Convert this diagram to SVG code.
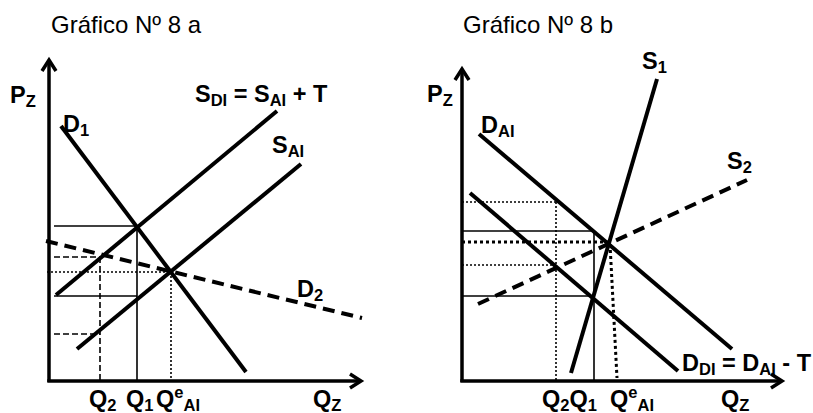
<svg xmlns="http://www.w3.org/2000/svg" width="813" height="413" viewBox="0 0 813 413">
<style>
.t{font-family:"Liberation Sans",Arial,sans-serif;font-size:24px;fill:#000}
.b{font-family:"Liberation Sans",Arial,sans-serif;font-weight:bold;font-size:23.5px;fill:#000}
.s{font-size:16.5px}
.ax{stroke:#000;stroke-width:3.5;fill:none}
.cv{stroke:#000;stroke-width:4;fill:none;stroke-linecap:butt}
.cvd{stroke:#000;stroke-width:4;fill:none;stroke-dasharray:12,7}
.g{stroke:#000;stroke-width:1.6;fill:none}
.gd{stroke:#000;stroke-width:1.6;fill:none;stroke-dasharray:6,3}
.go{stroke:#000;stroke-width:1.6;fill:none;stroke-dasharray:2,2}
.gO{stroke:#000;stroke-width:3;fill:none;stroke-dasharray:3,3}
</style>
<rect width="813" height="413" fill="#fff"/>

<g id="chart-a">
  <text class="t" x="51" y="33">Gráfico Nº 8 a</text>
  <g id="a-axes">
    <line class="ax" x1="49" y1="60" x2="49" y2="382"/>
    <polyline class="ax" points="42,71 49,60 56,71"/>
    <line class="ax" x1="47.3" y1="381" x2="361" y2="381"/>
    <polyline class="ax" points="350,374 361,381 350,388"/>
  </g>
  <g id="a-guides">
    <line class="g" x1="54" y1="226" x2="137" y2="226"/>
    <line class="g" x1="54" y1="296" x2="137" y2="296"/>
    <line class="g" x1="137" y1="226" x2="137" y2="381"/>
    <line class="gd" x1="54" y1="257" x2="100" y2="257"/>
    <line class="gd" x1="54" y1="334" x2="100" y2="334"/>
    <line class="gd" x1="100" y1="257" x2="100" y2="381"/>
    <line class="go" x1="47" y1="272" x2="171" y2="272"/>
    <line class="go" x1="171" y1="272" x2="171" y2="381"/>
  </g>
  <g id="a-curves">
    <line class="cv" x1="61" y1="126" x2="246" y2="372"/>
    <line class="cv" x1="56" y1="295" x2="277" y2="111"/>
    <line class="cv" x1="77" y1="349" x2="301" y2="164"/>
    <line class="cvd" x1="46" y1="241" x2="362" y2="318"/>
  </g>
  <g id="a-labels">
    <text class="b" x="10" y="103">P<tspan class="s" dy="4">Z</tspan></text>
    <text class="b" x="63" y="132">D<tspan class="s" dy="4">1</tspan></text>
    <text class="b" x="195" y="102">S<tspan class="s" dy="4">DI</tspan><tspan dy="-4"> = S</tspan><tspan class="s" dy="4">AI</tspan><tspan dy="-4"> + T</tspan></text>
    <text class="b" x="272" y="153">S<tspan class="s" dy="4">AI</tspan></text>
    <text class="b" x="297" y="297">D<tspan class="s" dy="4">2</tspan></text>
    <text class="b" x="89" y="407">Q<tspan class="s" dy="4">2</tspan></text>
    <text class="b" x="126" y="407">Q<tspan class="s" dy="4">1</tspan></text>
    <text class="b" x="156" y="407">Q<tspan class="s" dy="-9">e</tspan><tspan class="s" dy="13">AI</tspan></text>
    <text class="b" x="313" y="407">Q<tspan class="s" dy="4">Z</tspan></text>
  </g>
</g>

<g id="chart-b">
  <text class="t" x="463" y="33">Gráfico Nº 8 b</text>
  <g id="b-axes">
    <line class="ax" x1="462" y1="69" x2="462" y2="382"/>
    <polyline class="ax" points="455,80 462,69 469,80"/>
    <line class="ax" x1="460.3" y1="381" x2="782" y2="381"/>
    <polyline class="ax" points="771,374 782,381 771,388"/>
  </g>
  <g id="b-guides">
    <line class="go" x1="462" y1="202" x2="556" y2="202"/>
    <line class="go" x1="556" y1="202" x2="556" y2="381"/>
    <line class="go" x1="462" y1="265" x2="556" y2="265"/>
    <line class="g" x1="462" y1="231" x2="594" y2="231"/>
    <line class="g" x1="594" y1="231" x2="594" y2="381"/>
    <line class="g" x1="462" y1="296" x2="593" y2="296"/>
    <line class="gO" x1="462" y1="242" x2="609" y2="242"/>
    <line class="gO" x1="610" y1="244" x2="617" y2="378"/>
  </g>
  <g id="b-curves">
    <line class="cv" x1="571" y1="373" x2="657" y2="79"/>
    <line class="cv" x1="479" y1="134" x2="732" y2="349"/>
    <line class="cv" x1="470" y1="193" x2="678" y2="371"/>
    <line class="cvd" x1="478" y1="304" x2="747" y2="180"/>
  </g>
  <g id="b-labels">
    <text class="b" x="427" y="102">P<tspan class="s" dy="4">Z</tspan></text>
    <text class="b" x="481" y="133">D<tspan class="s" dy="4">AI</tspan></text>
    <text class="b" x="642" y="69">S<tspan class="s" dy="4">1</tspan></text>
    <text class="b" x="727" y="169">S<tspan class="s" dy="4">2</tspan></text>
    <text class="b" x="682" y="371">D<tspan class="s" dy="4">DI</tspan><tspan dy="-4"> = D</tspan><tspan class="s" dy="4">AI</tspan><tspan dy="-4"> - T</tspan></text>
    <text class="b" x="542" y="407">Q<tspan class="s" dy="4">2</tspan><tspan dy="-4">Q</tspan><tspan class="s" dy="4">1</tspan></text>
    <text class="b" x="610" y="407">Q<tspan class="s" dy="-9">e</tspan><tspan class="s" dy="13">AI</tspan></text>
    <text class="b" x="721" y="407">Q<tspan class="s" dy="4">Z</tspan></text>
  </g>
</g>
</svg>
